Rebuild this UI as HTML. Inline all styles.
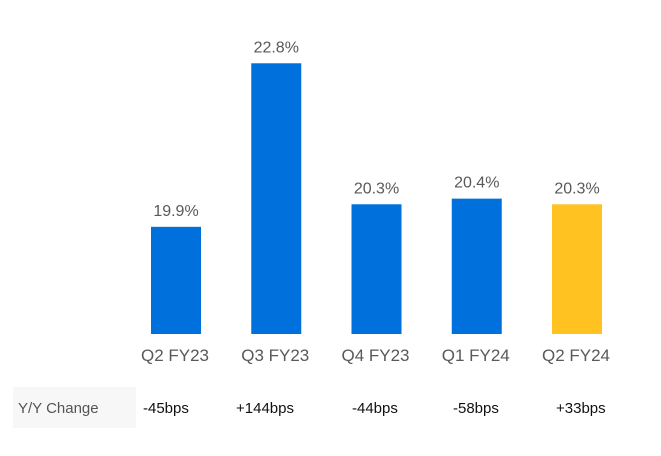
<!DOCTYPE html>
<html><head><meta charset="utf-8"><style>
body{margin:0;background:#fff;width:661px;height:451px;overflow:hidden;font-family:"Liberation Sans",sans-serif}
</style></head><body>
<svg width="661" height="451">
<rect x="13" y="387" width="123" height="41" fill="#f7f7f7"/>
<text x="18" y="413" font-size="15" fill="#555">Y/Y Change</text>
<g id="bars"></g>
</svg>
<script>
const categories=["Q2 FY23","Q3 FY23","Q4 FY23","Q1 FY24","Q2 FY24"];
const values=[19.9,22.8,20.3,20.4,20.3];
const valueLabels=["19.9%","22.8%","20.3%","20.4%","20.3%"];
const yyChanges=["-45bps","+144bps","-44bps","-58bps","+33bps"];
const colors=["#0071dc","#0071dc","#0071dc","#0071dc","#ffc220"];
const NS="http://www.w3.org/2000/svg";
const g=document.getElementById('bars');
const yMin=18,base=334,pxPer=56.4;
const y=v=>base-(v-yMin)*pxPer;
const xC=i=>176+i*100.25;
const yyX=[143,236,352,453,556];
function mk(t,a){const e=document.createElementNS(NS,t);for(const k in a)e.setAttribute(k,a[k]);g.appendChild(e);return e;}
categories.forEach((c,i)=>{
 const r=mk('rect',{x:xC(i)-25,y:y(values[i]),width:50,height:base-y(values[i]),fill:colors[i]});
 
 
 const v=mk('text',{x:xC(i),y:y(values[i])-11,'text-anchor':'middle','font-size':16,fill:'#595959'});
 v.textContent=valueLabels[i];
 
 
 const l=mk('text',{x:xC(i)-1,y:361,'text-anchor':'middle','font-size':17,fill:'#595959'});
 l.textContent=c;
 
 
 const t=mk('text',{x:yyX[i],y:413,'font-size':15,fill:'#111'});
 t.textContent=yyChanges[i];
 
 
});
</script>
</body></html>
